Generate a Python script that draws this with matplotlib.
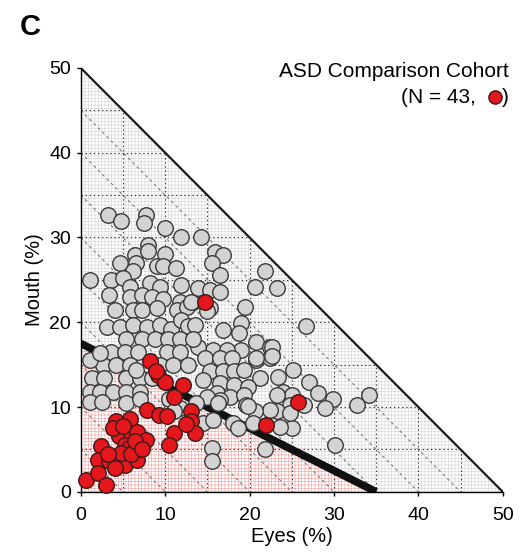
import matplotlib
matplotlib.use("Agg")
import matplotlib.pyplot as plt
import numpy as np

plt.rcParams["font.family"] = ["Liberation Sans", "DejaVu Sans"]
plt.rcParams["hatch.linewidth"] = 0.45

# Typical-development cohort (% fixation time on eyes / mouth)
td_eyes = [3.2, 4.8, 7.7, 7.5, 10.0, 11.9, 14.2, 8.0, 6.4, 8.0, 10.0, 4.7, 6.6, 6.2,
           9.0, 9.8, 11.3, 1.1, 3.6, 5.0, 8.2, 9.4, 11.9, 5.8, 3.4, 5.8, 7.2, 8.4,
           9.8, 11.7, 13.3, 4.0, 6.2, 7.3, 9.0, 11.4, 12.6, 15.9, 16.9, 15.6, 16.5,
           21.8, 20.6, 23.3, 13.9, 15.3, 16.5, 13.1, 19.5, 15.3, 14.9,
           3.1, 4.7, 6.2, 7.8, 9.4, 10.7, 11.9, 12.7, 16.9, 19.0, 18.8, 13.5,
           20.8, 22.4, 15.7, 13.9, 19.0, 17.3, 20.8, 22.4, 14.7, 16.5, 17.9,
           15.3, 16.9, 18.2, 19.4, 21.2, 23.4, 25.2, 27.1, 14.5, 16.5, 18.2, 19.8,
           24.0, 25.0, 16.1, 17.7, 19.4, 16.5, 19.6, 24.8, 26.5, 26.7,
           5.4, 7.2, 8.8, 10.3, 11.7, 13.3, 3.6, 5.2, 6.8, 10.2, 11.7,
           2.6, 4.2, 5.8, 9.4, 10.9, 12.7, 1.3, 2.8, 5.4, 7.0, 8.4,
           1.1, 2.3, 3.8, 5.4, 7.0, 1.1, 2.5, 1.1, 2.3, 6.6, 5.4, 7.0,
           10.5, 11.7, 11.1, 14.9, 13.7, 14.5, 15.7, 15.5, 15.5, 21.8, 18.0, 18.6,
           25.0, 23.6, 23.2, 22.4, 20.6, 19.8, 24.8, 16.3, 28.1, 29.9, 34.2, 32.7,
           28.9, 30.1, 20.4, 23.2, 22.6, 22.6, 20.8]
td_mouth = [32.7, 31.9, 32.7, 31.7, 31.1, 30.0, 30.0, 29.1, 27.9, 28.4, 28.1, 27.0,
            27.0, 26.0, 26.6, 26.6, 26.4, 25.0, 25.0, 25.2, 24.6, 24.2, 24.4, 24.2,
            23.2, 23.0, 23.2, 23.0, 22.8, 22.4, 22.4, 21.5, 21.5, 21.5, 21.7, 21.5,
            21.8, 28.3, 27.9, 27.0, 25.6, 26.0, 24.2, 24.0, 24.0, 23.8, 23.6, 22.4,
            21.8, 21.7, 21.3,
            19.4, 19.4, 19.7, 19.4, 19.7, 19.2, 20.3, 19.6, 19.1, 19.9, 18.7, 19.7,
            17.7, 17.1, 16.7, 17.1, 16.7, 16.7, 15.6, 15.8, 15.8, 15.8, 15.8,
            14.2, 14.2, 14.2, 14.4, 13.4, 13.6, 14.4, 13.0, 13.2, 12.8, 12.6, 12.4,
            11.8, 11.4, 11.6, 11.2, 11.4, 10.8, 10.3, 10.3, 10.3, 19.5,
            18.0, 18.0, 18.0, 18.0, 18.0, 18.0, 16.5, 16.5, 16.5, 16.5, 16.5,
            15.0, 15.0, 15.0, 15.0, 15.0, 15.0, 13.4, 13.4, 13.4, 13.4, 13.4,
            11.8, 11.8, 11.8, 11.8, 11.8, 10.6, 10.6, 15.6, 16.4, 14.4, 10.5, 10.9,
            11.0, 9.9, 9.5, 11.2, 10.5, 8.1, 8.5, 5.2, 3.6, 5.0, 8.1, 7.5,
            7.5, 7.7, 9.5, 9.7, 9.5, 10.1, 9.3, 10.5, 11.6, 11.0, 11.4, 10.3,
            9.9, 5.5, 8.1, 11.4, 17.1, 16.0, 15.8]

# ASD comparison cohort
asd_eyes = [14.7, 8.2, 9.2, 10.0, 12.1, 11.1, 13.1, 13.1, 13.5, 11.1, 10.5, 7.8,
            9.3, 10.2, 25.7, 22.0, 4.2, 5.8, 4.5, 6.0, 6.7, 7.7, 5.3, 5.7, 2.4,
            2.0, 3.4, 4.3, 5.3, 6.7, 0.6, 2.0, 3.0, 8.9, 4.8, 6.0, 3.8, 5.0, 6.4,
            4.0, 7.2, 12.5, 3.2]
asd_mouth = [22.4, 15.4, 13.8, 13.0, 12.6, 11.2, 9.5, 8.3, 6.9, 6.9, 5.5, 9.7,
             9.1, 8.9, 10.6, 7.9, 8.3, 8.6, 6.6, 6.9, 7.1, 6.1, 5.5, 5.2, 5.4,
             3.8, 3.6, 3.8, 3.2, 3.8, 1.4, 2.2, 0.8, 14.2, 4.6, 4.5, 7.5, 7.8, 6.0,
             2.8, 5.0, 8.0, 4.5]

# classification boundary (eyes, mouth)
boundary_eyes = [0, 35]
boundary_mouth = [17.5, 0]

ticks = [0, 10, 20, 30, 40, 50]
levels = [5, 10, 15, 20, 25, 30, 35, 40, 45]
total = 50

fig = plt.figure(figsize=(5.21, 5.52), dpi=100)
ax = fig.add_axes([0.155, 0.109, 0.81, 0.768])

# fine mesh background over the feasible triangle, pink under the boundary
ax.fill([0, 0, total], [0, total, 0], facecolor="white", edgecolor="#d6d6d6",
        hatch="+++++", linewidth=0, zorder=0)
ax.fill([0, 0, boundary_eyes[1]], [0, boundary_mouth[0], 0], facecolor="white",
        edgecolor="#f4a8a8", hatch="+++++", linewidth=0, zorder=0.5)

for v in levels:
    ax.plot([0, total - v], [v, v], color="#333333", ls=(0, (1.2, 2.5)), lw=0.8, zorder=1)
    ax.plot([v, v], [0, total - v], color="#333333", ls=(0, (1.2, 2.5)), lw=0.8, zorder=1)
    ax.plot([0, v], [v, 0], color="#777777", ls=(0, (2.5, 3)), lw=0.8, zorder=1)

ax.plot([0, total], [total, 0], color="#1a1a1a", lw=1.6, zorder=2)
ax.plot(boundary_eyes, boundary_mouth, color="#111111", lw=5.5,
        solid_capstyle="butt", zorder=2)

ax.scatter(td_eyes, td_mouth, s=125, c="#d3d3d3", edgecolors="#3a3a3a",
           linewidths=1.0, zorder=3, clip_on=False)
ax.scatter(asd_eyes, asd_mouth, s=125, c="#e3171c", edgecolors="#3a1a1a",
           linewidths=1.0, zorder=4, clip_on=False)

ax.set_xlim(0, total)
ax.set_ylim(0, total)
ax.set_xticks(ticks)
ax.set_yticks(ticks)
ax.tick_params(labelsize=14, length=3, width=1, direction="out")
ax.tick_params(axis="x", pad=8)
ax.tick_params(axis="y", pad=4)
for side in ["top", "right"]:
    ax.spines[side].set_visible(False)
for side in ["left", "bottom"]:
    ax.spines[side].set_linewidth(1.0)
ax.set_xlabel("Eyes (%)", fontsize=14.5, labelpad=2)
ax.set_ylabel("Mouth (%)", fontsize=14.5, labelpad=4)

fig.text(20 / 521, 1 - 35 / 552, "C", fontsize=21, fontweight="bold")
fig.text(509 / 521, 1 - 77 / 552, "ASD Comparison Cohort", fontsize=15,
         ha="right", va="baseline")
fig.text(476 / 521, 1 - 103 / 552, "(N = 43,", fontsize=15, ha="right", va="baseline")
fig.text(509 / 521, 1 - 103 / 552, ")", fontsize=15, ha="right", va="baseline")
fig.lines.append(plt.Line2D([495 / 521], [1 - 97 / 552], marker="o", ms=9.5,
                            mfc="#e3171c", mec="#3a1a1a", mew=1.0,
                            transform=fig.transFigure))

fig.savefig("out.png", dpi=100)
